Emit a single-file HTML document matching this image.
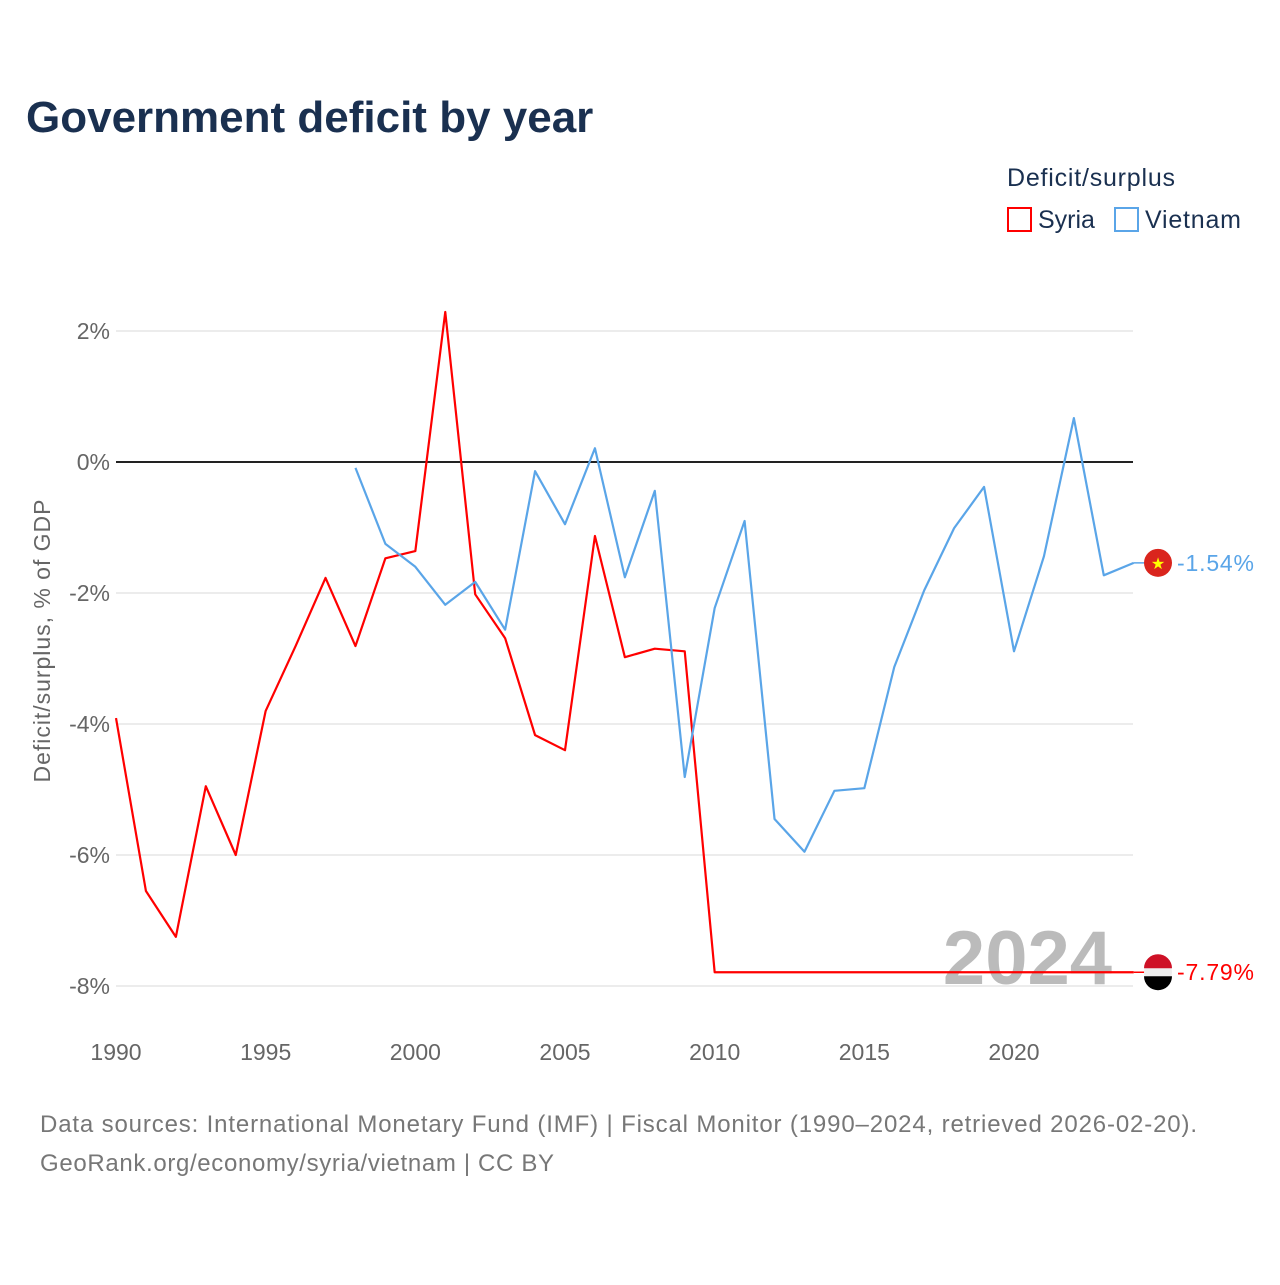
<!DOCTYPE html>
<html><head><meta charset="utf-8"><style>
body{margin:0;background:#fff;font-family:"Liberation Sans",sans-serif;}
</style></head><body>
<svg width="1280" height="1280" xmlns="http://www.w3.org/2000/svg">
<text x="26" y="132" font-size="44" font-weight="bold" fill="#1a3050">Government deficit by year</text>
<text x="1007" y="186" font-size="25" fill="#1a3050" textLength="168">Deficit/surplus</text>
<g><rect x="1008" y="208" width="23" height="23" fill="none" stroke="#f00" stroke-width="2"/><text x="1038" y="228" font-size="25" fill="#1a3050">Syria</text></g>
<g><rect x="1115" y="208" width="23" height="23" fill="none" stroke="#5aa5e8" stroke-width="2"/><text x="1145" y="228" font-size="25" fill="#1a3050" textLength="96">Vietnam</text></g>
<g id="grid"></g>
<text transform="translate(50,641) rotate(-90)" text-anchor="middle" font-size="23" fill="#666" textLength="283">Deficit/surplus, % of GDP</text>
<text x="1112" y="984" text-anchor="end" font-size="76" font-weight="bold" fill="#bbb">2024</text>
<g id="marks"></g>
<text x="40" y="1132" font-size="24" fill="#777" textLength="1157">Data sources: International Monetary Fund (IMF) | Fiscal Monitor (1990–2024, retrieved 2026-02-20).</text>
<text x="40" y="1171" font-size="24" fill="#777" textLength="514">GeoRank.org/economy/syria/vietnam | CC BY</text>
</svg>
<script>
const yTicks=[2,0,-2,-4,-6,-8];
const xTicks=[1990,1995,2000,2005,2010,2015,2020];
const syriaYears=[1990,1991,1992,1993,1994,1995,1996,1997,1998,1999,2000,2001,2002,2003,2004,2005,2006,2007,2008,2009,2010,2011,2012,2013,2014,2015,2016,2017,2018,2019,2020,2021,2022,2023,2024];
const syriaVals=[-3.91,-6.55,-7.25,-4.95,-6.0,-3.8,-2.81,-1.77,-2.81,-1.47,-1.36,2.29,-2.02,-2.69,-4.17,-4.40,-1.13,-2.98,-2.85,-2.89,-7.79,-7.79,-7.79,-7.79,-7.79,-7.79,-7.79,-7.79,-7.79,-7.79,-7.79,-7.79,-7.79,-7.79,-7.79];
const vietYears=[1998,1999,2000,2001,2002,2003,2004,2005,2006,2007,2008,2009,2010,2011,2012,2013,2014,2015,2016,2017,2018,2019,2020,2021,2022,2023,2024];
const vietVals=[-0.09,-1.25,-1.60,-2.18,-1.83,-2.56,-0.14,-0.95,0.21,-1.76,-0.44,-4.81,-2.23,-0.90,-5.45,-5.95,-5.02,-4.98,-3.13,-1.96,-1.01,-0.38,-2.89,-1.44,0.67,-1.73,-1.54];
const X=y=>116+(y-1990)*(898/30);
const Y=v=>462-v*65.5;
const NS="http://www.w3.org/2000/svg";
function mk(t,a,p){const e=document.createElementNS(NS,t);for(const k in a)e.setAttribute(k,a[k]);p.appendChild(e);return e;}
const g=document.getElementById('grid'),m=document.getElementById('marks');
yTicks.forEach(v=>{
 const l=mk('line',{x1:116,x2:1133,y1:Y(v),y2:Y(v),stroke:v===0?'#222':'#e6e6e6','stroke-width':v===0?2:1.5},g);
 
 
 const t=mk('text',{x:110,y:Y(v)+8,'text-anchor':'end','font-size':23,fill:'#666'},g);t.textContent=v+'%';
 
 
});
xTicks.forEach(v=>{
 const t=mk('text',{x:X(v),y:1060,'text-anchor':'middle','font-size':23,fill:'#666'},g);t.textContent=v;
 
 
});
function line(ys,vs,c,name){
 const p=mk('polyline',{points:ys.map((y,i)=>X(y)+','+Y(vs[i])).join(' '),fill:'none',stroke:c,'stroke-width':2.2,'stroke-linejoin':'round'},m);
 
 
}
line(syriaYears,syriaVals,'#f00','syria-line');
line(vietYears,vietVals,'#5aa5e8','vietnam-line');
function end(ys,vs,c,name,flag){
 const v=vs[vs.length-1],yy=Y(v),x0=X(ys[ys.length-1]);
 mk('line',{x1:x0,x2:1145,y1:yy,y2:yy,stroke:c,'stroke-width':1.5},m);
 const f=mk('circle',{cx:1158,cy:yy,r:14,fill:flag},m);
 
 
 const t=mk('text',{x:1177,y:yy+8,'font-size':23,fill:c,textLength:77},m);t.textContent=v.toFixed(2)+'%';
 
 
}
end(syriaYears,syriaVals,'#f00','syria','#eee');
end(vietYears,vietVals,'#5aa5e8','vietnam','#da251d');
const yS=Y(-7.79);
mk('path',{d:`M1144,${yS-4} A14,14 0 0 1 1172,${yS-4} Z`,fill:'#ce1126'},m);
mk('path',{d:`M1144,${yS+4} A14,14 0 0 0 1172,${yS+4} Z`,fill:'#000'},m);
const st=mk('text',{x:1158,y:Y(-1.54)+6,'text-anchor':'middle','font-size':16,fill:'#ff0'},m);st.textContent='★';
</script>
</body></html>
